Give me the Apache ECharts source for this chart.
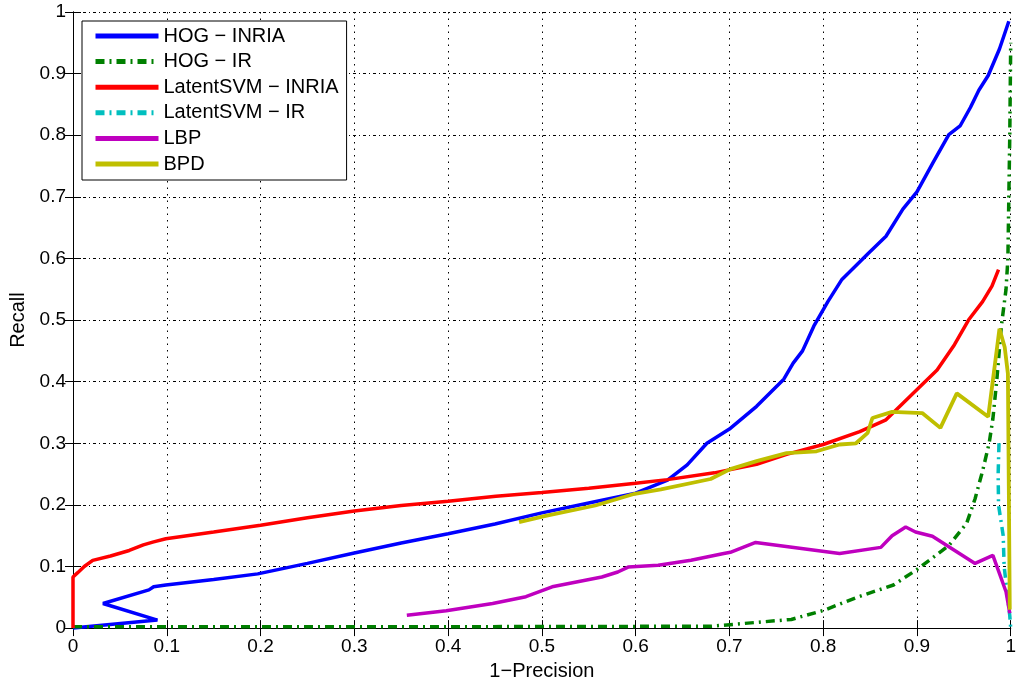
<!DOCTYPE html>
<html>
<head>
<meta charset="utf-8">
<script src="https://cdn.jsdelivr.net/npm/echarts@6/dist/echarts.min.js"></script>
<style>
html,body{margin:0;padding:0;background:#fff;}
#chart{width:1019px;height:686px;}
</style>
</head>
<body>
<div id="chart"></div>
<script>
// ---- data (x = 1-Precision, y = Recall) ----
const seriesNames = ['HOG \u2212 INRIA', 'HOG \u2212 IR', 'LatentSVM \u2212 INRIA', 'LatentSVM \u2212 IR', 'LBP', 'BPD'];
const xTickLabels = ['0','0.1','0.2','0.3','0.4','0.5','0.6','0.7','0.8','0.9','1'];
const yTickLabels = ['0','0.1','0.2','0.3','0.4','0.5','0.6','0.7','0.8','0.9','1'];

const hogInria = [[0,0],[0.09,0.013],[0.032,0.040],[0.081,0.062],[0.086,0.067],[0.099,0.070],[0.15,0.079],[0.197,0.088],[0.25,0.105],[0.30,0.122],[0.35,0.138],[0.40,0.153],[0.45,0.169],[0.50,0.187],[0.55,0.203],[0.60,0.219],[0.634,0.240],[0.655,0.265],[0.676,0.300],[0.70,0.323],[0.729,0.360],[0.758,0.404],[0.768,0.430],[0.778,0.45],[0.79,0.49],[0.805,0.53],[0.82,0.566],[0.848,0.608],[0.867,0.636],[0.885,0.68],[0.90,0.708],[0.917,0.755],[0.934,0.801],[0.946,0.815],[0.957,0.845],[0.966,0.873],[0.976,0.897],[0.988,0.94],[0.998,0.985]];

const hogIr = [[0,0.002],[0.3,0.002],[0.68,0.003],[0.727,0.009],[0.766,0.014],[0.801,0.029],[0.836,0.05],[0.875,0.07],[0.9,0.095],[0.934,0.134],[0.953,0.17],[0.962,0.21],[0.97,0.255],[0.977,0.30],[0.981,0.34],[0.985,0.40],[0.99,0.49],[0.995,0.55],[0.997,0.6],[0.999,0.8],[1.0,0.95]];

const latentInria = [[0,0],[0,0.083],[0.005,0.09],[0.012,0.1],[0.021,0.11],[0.04,0.117],[0.06,0.126],[0.075,0.135],[0.086,0.140],[0.099,0.145],[0.15,0.156],[0.2,0.167],[0.25,0.179],[0.3,0.19],[0.35,0.199],[0.4,0.206],[0.451,0.214],[0.5,0.220],[0.55,0.227],[0.6,0.235],[0.634,0.241],[0.684,0.252],[0.729,0.266],[0.761,0.282],[0.80,0.298],[0.839,0.319],[0.867,0.338],[0.9215,0.419],[0.94,0.46],[0.955,0.50],[0.97,0.53],[0.98,0.555],[0.987,0.582]];

const latentIr = [[0.9875,0.30],[0.9866,0.25],[0.987,0.2],[0.992,0.15],[0.993,0.1],[0.996,0.06],[0.999,0.02],[1.0,0]];

const lbp = [[0.356,0.021],[0.398,0.028],[0.4475,0.040],[0.483,0.051],[0.511,0.067],[0.564,0.083],[0.581,0.091],[0.592,0.099],[0.624,0.102],[0.659,0.110],[0.694,0.121],[0.701,0.123],[0.728,0.139],[0.8175,0.121],[0.8615,0.131],[0.8735,0.150],[0.888,0.164],[0.8985,0.156],[0.9165,0.149],[0.962,0.105],[0.981,0.118],[0.995,0.059],[0.999,0.024]];

const bpd = [[0.4757,0.172],[0.504,0.182],[0.557,0.199],[0.599,0.218],[0.627,0.225],[0.680,0.242],[0.701,0.258],[0.729,0.271],[0.761,0.284],[0.793,0.287],[0.8175,0.298],[0.835,0.300],[0.8475,0.317],[0.8525,0.341],[0.8735,0.351],[0.9056,0.349],[0.925,0.325],[0.9425,0.381],[0.976,0.343],[0.988,0.486],[0.9936,0.456],[0.997,0.413],[0.999,0.03]];

// ---- chart ----
const FONT = 'Liberation Sans';
const chart = echarts.init(document.getElementById('chart'), null, {renderer:'canvas'});

function mkSeries(name, data, color, width, dash) {
  return {
    name: name, type: 'line', data: data, symbol: 'none', clip: false,
    lineStyle: {color: color, width: width, type: dash || 'solid'},
    itemStyle: {color: color},
    emphasis: {disabled: true}, silent: true, z: 3
  };
}

const boxAxisCommon = {
  type: 'value', min: 0, max: 1, interval: 0.1,
  axisLine: {show: true, lineStyle: {color: '#000', width: 1}},
  axisTick: {show: true, inside: true, length: 8, lineStyle: {color: '#000', width: 1}},
};

const option = {
  animation: false,
  backgroundColor: '#fff',
  grid: {left: 73, right: 1, top: 12, bottom: 53, containLabel: false},
  legend: {
    orient: 'vertical', left: 82, top: 21,
    padding: [5, 8, 6, 11],
    itemWidth: 63, itemHeight: 19, itemGap: 5.6,
    borderColor: '#000', borderWidth: 1, backgroundColor: '#fff',
    selectedMode: false,
    textStyle: {fontFamily: FONT, fontSize: 20, color: '#000', lineHeight: 19},
    lineStyle: {width: 5},
    itemStyle: {opacity: 0, borderWidth: 0},
    data: seriesNames
  },
  xAxis: [
    Object.assign({}, boxAxisCommon, {
      position: 'bottom',
      name: '1\u2212Precision', nameLocation: 'middle', nameGap: 30,
      nameTextStyle: {fontFamily: FONT, fontSize: 20, color: '#000'},
      axisLabel: {show: true, margin: 9, fontFamily: FONT, fontSize: 19, color: '#000',
        formatter: v => xTickLabels[Math.round(v * 10)]},
      splitLine: {show: true, lineStyle: {color: '#000', width: 1, type: [1.5, 5]}}
    }),
    Object.assign({}, boxAxisCommon, {
      position: 'top', axisLabel: {show: false}, splitLine: {show: false}
    })
  ],
  yAxis: [
    Object.assign({}, boxAxisCommon, {
      position: 'left',
      name: 'Recall', nameLocation: 'middle', nameGap: 44,
      nameTextStyle: {fontFamily: FONT, fontSize: 20, color: '#000'},
      axisLabel: {show: true, margin: 7, fontFamily: FONT, fontSize: 19, color: '#000',
        formatter: v => yTickLabels[Math.round(v * 10)]},
      splitLine: {show: true, lineStyle: {color: '#000', width: 1, type: [3, 3, 1, 3]}}
    }),
    Object.assign({}, boxAxisCommon, {
      position: 'right', axisLabel: {show: false}, splitLine: {show: false}
    })
  ],
  series: [
    mkSeries(seriesNames[0], hogInria, '#0000ff', 3.5),
    mkSeries(seriesNames[1], hogIr, '#008000', 3.5, [9, 5, 2, 5]),
    mkSeries(seriesNames[2], latentInria, '#ff0000', 3.5),
    mkSeries(seriesNames[3], latentIr, '#00bfbf', 3.5, [9, 5, 2, 5]),
    mkSeries(seriesNames[4], lbp, '#bf00bf', 3.5),
    mkSeries(seriesNames[5], bpd, '#bfbf00', 3.8)
  ]
};
chart.setOption(option);
</script>
</body>
</html>
